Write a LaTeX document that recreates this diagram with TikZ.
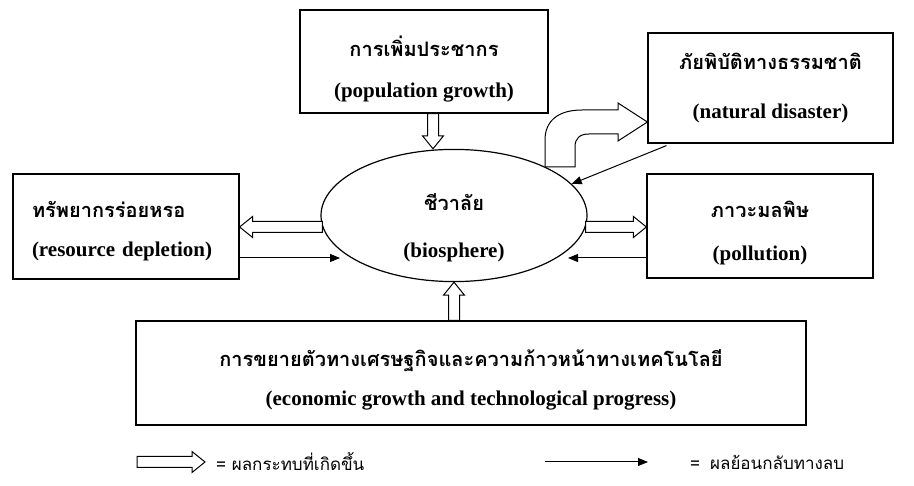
\documentclass[tikz,border=0pt]{standalone}
\usepackage{fontspec}
\setmainfont{Liberation Serif}
\newfontfamily\thaifont[Script=Thai]{Loma}
\usetikzlibrary{shapes.geometric,arrows.meta,calc}

\tikzset{
  box/.style={draw, line width=1.2pt, align=center, inner sep=0pt,
    font=\fontsize{21}{25}\selectfont\bfseries},
  fat/.style={draw, fill=white, line width=1pt, line join=miter},
  thin/.style={draw, line width=1pt, -{Triangle[length=10pt,width=8pt]}},
  legend/.style={anchor=west, inner sep=0pt, font=\thaifont\fontsize{17}{20}\selectfont},
}
\newcommand{\thaibig}{\thaifont\fontsize{20}{25}\selectfont\bfseries}
% hollow arrow from #1 to #2
\newcommand{\fatarrow}[2]{%
  \draw[fat] let \p1=(#1), \p2=(#2),
    \n1={atan2(\y2-\y1,\x2-\x1)}, \n2={veclen(\x2-\x1,\y2-\y1)} in
    [shift={(\p1)}, rotate=\n1]
    (0pt,-5.5pt) -- ({\n2-13pt},-5.5pt) -- ({\n2-13pt},-10.5pt) -- (\n2,0pt)
    -- ({\n2-13pt},10.5pt) -- ({\n2-13pt},5.5pt) -- (0pt,5.5pt) -- cycle;}

\begin{document}
\begin{tikzpicture}[x=1pt,y=-1pt]
  \useasboundingbox (0,0) rectangle (914,486);

  %% boxes
  \node[box, minimum width=248pt, minimum height=103pt] (pop) at (424,61.5)
    {{\thaibig\rule{0pt}{36pt}การเพิ่มประชากร}\\[16pt] (population growth)};
  \node[box, minimum width=245pt, minimum height=110pt] (nat) at (770.5,88)
    {{\thaibig ภัยพิบัติทางธรรมชาติ}\\[24pt] (natural disaster)};
  \node[box, minimum width=226pt, minimum height=105pt, text width=188pt, align=left] (res) at (126,226.5)
    {{\thaibig\rule{0pt}{26pt}ทรัพยากรร่อยหรอ}\\[14pt] (resource depletion)};
  \node[box, minimum width=226pt, minimum height=104pt] (pol) at (760,226)
    {{\thaibig\rule{0pt}{30pt}ภาวะมลพิษ}\\[18pt] (pollution)};
  \node[box, minimum width=670pt, minimum height=104pt] (eco) at (471,373)
    {{\thaibig\rule{0pt}{30pt}การขยายตัวทางเศรษฐกิจและความก้าวหน้าทางเทคโนโลยี}\\[14pt] (economic growth and technological progress)};
  \node[box, ellipse, minimum width=266pt, minimum height=125pt] (bio) at (454,215.5)
    {{\thaibig\rule{0pt}{42pt}ชีวาลัย}\\[22pt] (biosphere)};

  %% hollow arrows
  \coordinate (popout) at ($(pop.south)+(9,0)$);
  \fatarrow{popout}{popout |- bio.north}
  \fatarrow{bio.south |- eco.north}{bio.south}
  \coordinate (bw) at ($(bio.west)+(2,11.5)$);
  \fatarrow{bw}{bw -| res.east}
  \coordinate (be) at ($(bio.east)+(-2,11.5)$);
  \fatarrow{be}{be -| pol.west}
  \draw[fat] (545,167) -- (545,140) .. controls (545,121) and (558,110) .. (582,110)
    -- (618,110) -- (618,103) -- (nat.west |- 0,122) -- (618,141) -- (618,134)
    -- (589,134) .. controls (580,134) and (575,138) .. (575,147) -- (575,167) -- cycle;

  %% feedback arrows
  \draw[thin] ($(nat.south west)+(19,2)$) -- (bio.15);
  \coordinate (polfb) at (568,258);
  \draw[thin] (pol.west |- polfb) -- (polfb);
  \coordinate (resfb) at (340,258);
  \draw[thin] (res.east |- resfb) -- (resfb);

  %% legend
  \coordinate (lga) at (137,462);
  \coordinate (lgb) at (205,462);
  \fatarrow{lga}{lgb}
  \node[legend] (lgfat) at (216,462) {= ผลกระทบที่เกิดขึ้น};
  \coordinate (lgc) at (545,462);
  \coordinate (lgd) at (648,462);
  \draw[thin] (lgc) -- (lgd);
  \node[legend] (lgthin) at (690,462) {=\hspace{10pt}ผลย้อนกลับทางลบ};
\end{tikzpicture}
\end{document}
